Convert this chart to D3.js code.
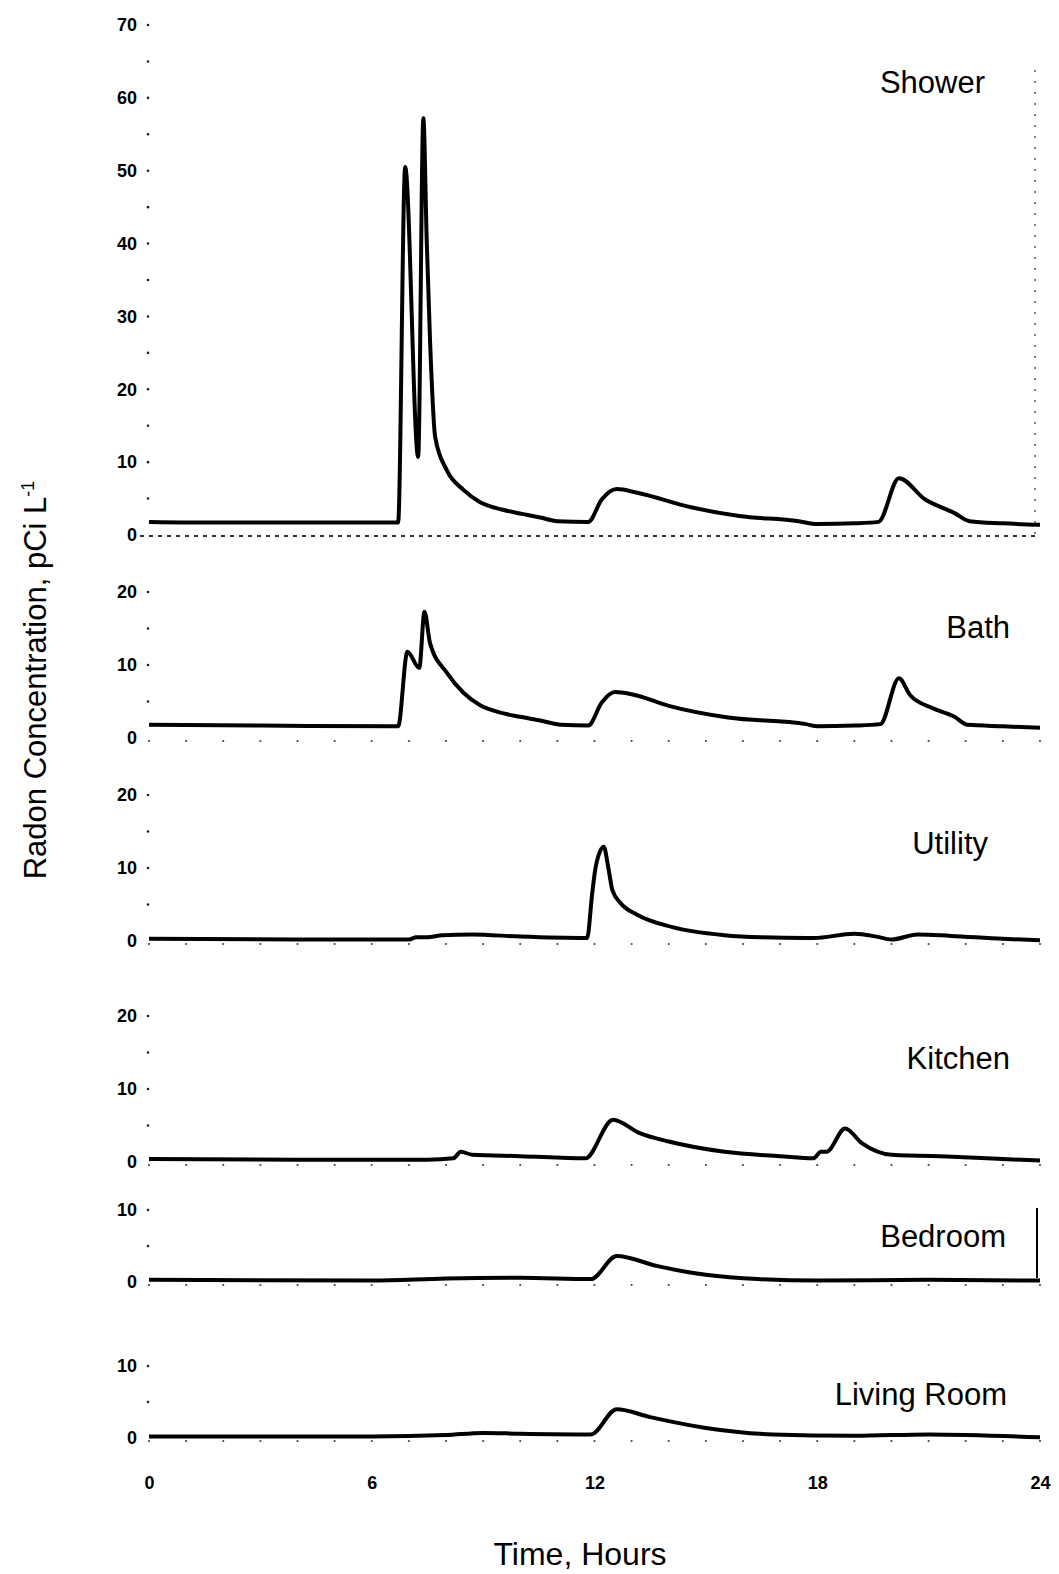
<!DOCTYPE html>
<html><head><meta charset="utf-8">
<script src="https://cdn.jsdelivr.net/npm/d3@7"></script>
<style>
body{margin:0;background:#fff;}
svg{display:block;font-family:"Liberation Sans",Arial,sans-serif;}
</style></head>
<body><svg id="c" width="1059" height="1574"></svg>
<script>
const hourTicks = [0, 6, 12, 18, 24];
const roomNames = ["Shower", "Bath", "Utility", "Kitchen", "Bedroom", "Living Room"];
const yMaxima = [70, 20, 20, 20, 10, 10];
const showerData = [[0,1.8],[2,1.7],[4,1.7],[6.71,1.7],[6.9,50.5],[7.25,10.7],[7.39,57.2],[7.48,40.5],[7.57,26.7],[7.71,13.4],[8.02,8.9],[8.47,6.2],[8.92,4.5],[9.5,3.5],[10.05,2.9],[10.54,2.4],[11.0,1.9],[11.83,1.8],[12.2,4.9],[12.6,6.3],[13.15,5.8],[14.6,3.8],[15.9,2.6],[17.5,1.9],[18.0,1.5],[19.0,1.6],[19.65,1.8],[20.2,7.8],[20.9,4.9],[21.7,3.0],[22.1,1.9],[23,1.6],[24,1.4]];
const bathData = [[0,1.8],[3,1.7],[6.71,1.6],[6.96,11.8],[7.28,9.6],[7.42,17.3],[7.57,13.0],[8.03,8.9],[8.47,6.2],[8.92,4.5],[9.37,3.6],[10.0,2.9],[10.54,2.4],[11.1,1.8],[11.83,1.7],[12.2,4.9],[12.55,6.3],[13.0,6.0],[14.0,4.4],[15.6,2.8],[17.7,1.9],[18.0,1.6],[19.0,1.7],[19.7,1.9],[20.2,8.2],[20.5,5.9],[21.1,4.1],[21.7,2.9],[22.05,1.8],[23,1.6],[24,1.4]];
const utilityData = [[0,0.3],[4,0.2],[7.0,0.2],[7.2,0.5],[7.5,0.5],[7.9,0.8],[8.7,0.9],[10,0.6],[11.8,0.4],[11.94,6.6],[12.03,10.1],[12.25,12.9],[12.37,10.1],[12.48,7.0],[12.7,5.2],[13.15,3.6],[14.1,1.9],[15.5,0.8],[16.5,0.5],[17.7,0.4],[17.9,0.4],[19.0,1.0],[19.6,0.6],[20.0,0.2],[20.7,0.9],[21.6,0.7],[23,0.3],[24,0.1]];
const kitchenData = [[0,0.4],[4,0.3],[7.5,0.3],[8.2,0.5],[8.4,1.4],[8.7,1.0],[10,0.8],[11.75,0.5],[12.5,5.8],[13.2,4.0],[14.0,2.8],[15.5,1.4],[17.0,0.8],[17.9,0.5],[18.1,1.4],[18.25,1.4],[18.75,4.6],[19.2,2.6],[20.0,1.0],[21.8,0.7],[23,0.4],[24,0.2]];
const bedroomData = [[0,0.3],[6,0.2],[8,0.5],[10,0.6],[11.9,0.4],[12.6,3.6],[13.7,2.2],[15.0,1.0],[16.4,0.4],[18,0.2],[21,0.3],[24,0.2]];
const livingData = [[0,0.2],[6,0.2],[8,0.4],[9,0.7],[10,0.6],[11.9,0.5],[12.6,4.0],[13.5,2.9],[15.0,1.4],[16.8,0.5],[19,0.3],[21,0.5],[24,0.1]];
const seriesList = [showerData, bathData, utilityData, kitchenData, bedroomData, livingData];

// layout (pixel positions of each panel)
const panelBottoms = [535, 738, 941, 1162, 1282, 1438];
const panelTops = [25, 592, 795, 1016, 1210, 1366];
const labelY = [93, 638, 854, 1069, 1247, 1405];
const labelRight = [985, 1010, 988, 1010, 1006, 1007];

const svg = d3.select("#c");
const x = d3.scaleLinear().domain([0, 24]).range([149, 1040]);

seriesList.forEach((data, i) => {
  const y = d3.scaleLinear().domain([0, yMaxima[i]]).range([panelBottoms[i], panelTops[i]]);
  const g = svg.append("g");
  const ticks = d3.range(0, yMaxima[i] + 0.1, 5);
  const ax = d3.axisLeft(y).tickValues(ticks.filter(v => v % 10 === 0)).tickSize(0).tickPadding(11).tickFormat(d3.format("d"));
  const axg = g.append("g").attr("transform", "translate(148,0)").call(ax);
  axg.select(".domain").remove();
  axg.selectAll("text").attr("font-size", 18).attr("font-weight", "bold").attr("fill", "#000")
     .attr("font-family", "'Liberation Sans',Arial,sans-serif");
  g.selectAll("circle.yt").data(ticks.filter(v => v > 0)).join("circle")
    .attr("cx", 148).attr("cy", d => y(d)).attr("r", 1.3).attr("fill", "#222");
  if (i === 0) {
    g.append("line").attr("x1", 140).attr("x2", 1035).attr("y1", y(0) + 1).attr("y2", y(0) + 1)
      .attr("stroke", "#333").attr("stroke-width", 2).attr("stroke-dasharray", "4,5");
  } else {
    g.selectAll("circle.xt").data(d3.range(0, 25)).join("circle")
      .attr("cx", d => x(d)).attr("cy", y(0) + 3).attr("r", 1.1).attr("fill", "#444");
  }
  const line = d3.line().x(d => x(d[0])).y(d => y(d[1])).curve(d3.curveMonotoneX);
  g.append("path").datum(data).attr("d", line).attr("fill", "none")
    .attr("stroke", "#000").attr("stroke-width", 4).attr("stroke-linejoin", "round");
  g.append("text").attr("x", labelRight[i]).attr("y", labelY[i]).attr("text-anchor", "end")
    .attr("font-size", 31).attr("fill", "#000").text(roomNames[i]);
});

const xa = d3.axisBottom(x).tickValues(hourTicks).tickSize(0).tickPadding(28);
const xg = svg.append("g").attr("transform", "translate(0,1448)").call(xa);
xg.select(".domain").remove();
xg.selectAll("text").attr("font-size", 18).attr("font-weight", "bold").attr("fill", "#000")
  .attr("font-family", "'Liberation Sans',Arial,sans-serif");

// decorations from the original figure
svg.append("line").attr("x1", 1035).attr("x2", 1035).attr("y1", 70).attr("y2", 540)
  .attr("stroke", "#555").attr("stroke-width", 1.5).attr("stroke-dasharray", "2,9");
svg.append("line").attr("x1", 1037).attr("x2", 1037).attr("y1", 1208).attr("y2", 1278)
  .attr("stroke", "#000").attr("stroke-width", 2);

svg.append("text").attr("x", 580).attr("y", 1565).attr("text-anchor", "middle")
  .attr("font-size", 32).attr("fill", "#000").text("Time, Hours");
const yt = svg.append("text").attr("transform", "translate(46,680) rotate(-90)").attr("text-anchor", "middle")
  .attr("font-size", 31).attr("fill", "#000");
yt.append("tspan").text("Radon Concentration, pCi L");
yt.append("tspan").attr("dy", -12).attr("font-size", 18).text("-1");
</script></body></html>
